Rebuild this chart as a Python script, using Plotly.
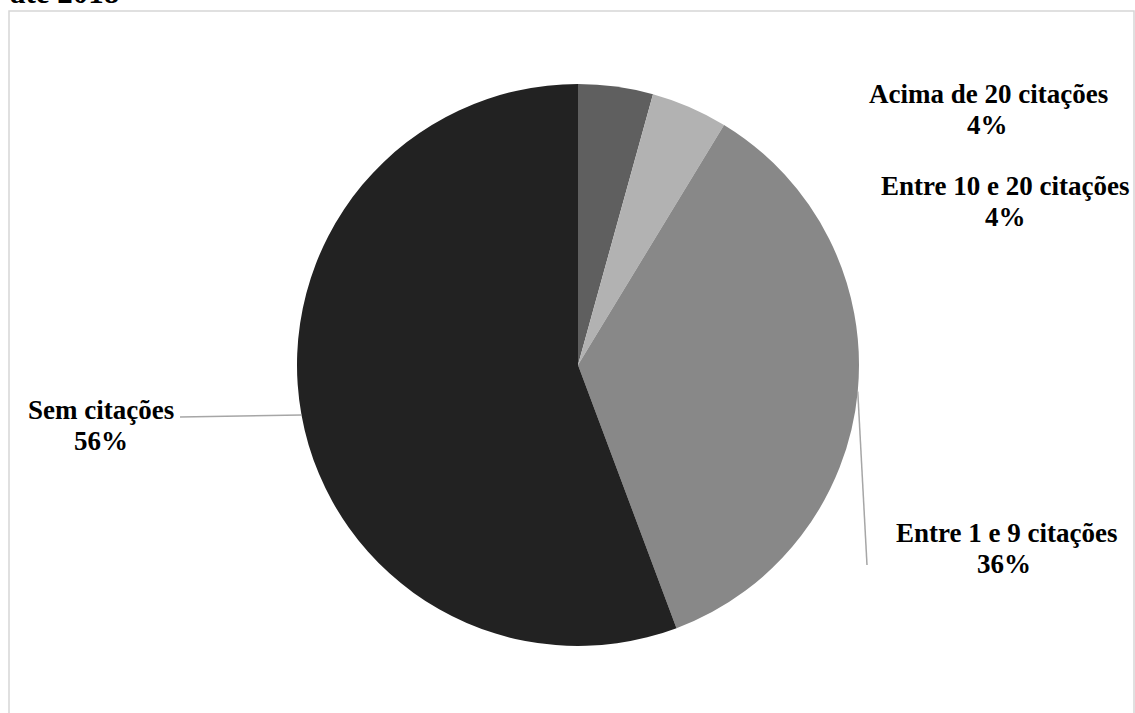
import numpy as np
import plotly.graph_objects as go

# ---- data ----
categories = ["Acima de 20 citações", "Entre 10 e 20 citações", "Entre 1 e 9 citações", "Sem citações"]
values = [4.3, 4.4, 35.6, 55.7]
pct_labels = ["4%", "4%", "36%", "56%"]
colors = ["#5f5f5f", "#b2b2b2", "#888888", "#222222"]

W, H = 1135, 713
ML, MT = 297, 84
PW = PH = 562
MR = W - ML - PW
MB = H - MT - PH
R = min(PW, PH) / 2.0
CX, CY = ML + PW / 2.0, MT + PH / 2.0


def px(x):
    """screen pixel x -> paper coordinate"""
    return (x - ML) / PW


def py(y):
    """screen pixel y -> paper coordinate"""
    return (H - MB - y) / PH


fig = go.Figure(go.Pie(
    labels=categories,
    values=values,
    sort=False,
    direction="clockwise",
    rotation=0,
    marker=dict(colors=colors, line=dict(width=0)),
    textinfo="none",
    hoverinfo="label+percent",
    showlegend=False,
))

# label positions (pixel centres of name line and percentage line)
label_pos = {
    "Acima de 20 citações": ((988, 94), (987, 125)),
    "Entre 10 e 20 citações": ((1005, 186), (1005, 217)),
    "Entre 1 e 9 citações": ((1006, 533), (1004, 564)),
    "Sem citações": ((101, 410), (101, 441)),
}
font = dict(family="Liberation Serif, Times New Roman, serif", size=27, color="#000000")
annotations = []
for cat, pct in zip(categories, pct_labels):
    (x1, y1), (x2, y2) = label_pos[cat]
    annotations.append(dict(text="<b>%s</b>" % cat, x=px(x1), y=py(y1), xref="paper", yref="paper",
                            showarrow=False, xanchor="center", yanchor="middle", font=font))
    annotations.append(dict(text="<b>%s</b>" % pct, x=px(x2), y=py(y2), xref="paper", yref="paper",
                            showarrow=False, xanchor="center", yanchor="middle", font=font))

# clipped title remnant (as in the reference: only its lower edge is visible)
annotations.append(dict(text="<b>até 2018</b>", x=px(8), y=py(12), xref="paper", yref="paper",
                        showarrow=False, xanchor="left", yanchor="bottom",
                        font=dict(family="Liberation Serif, Times New Roman, serif", size=31, color="#000000")))

# leader lines from slice mid-angles
cum = np.cumsum([0] + values) / np.sum(values)
mid = (cum[:-1] + cum[1:]) / 2 * 2 * np.pi
shapes = []
leader_ends = {"Sem citações": (180, 417), "Entre 1 e 9 citações": (867, 565)}
for i, cat in enumerate(categories):
    if cat in leader_ends:
        sx = CX + R * np.sin(mid[i])
        sy = CY - R * np.cos(mid[i])
        ex, ey = leader_ends[cat]
        shapes.append(dict(type="line", xref="paper", yref="paper",
                           x0=px(sx), y0=py(sy), x1=px(ex), y1=py(ey),
                           line=dict(color="#a6a6a6", width=1.5)))

# chart border
shapes.append(dict(type="rect", xref="paper", yref="paper",
                   x0=px(9), y0=py(730), x1=px(1134), y1=py(11),
                   line=dict(color="#d6d6d6", width=1.5), fillcolor="rgba(0,0,0,0)", layer="below"))

fig.update_layout(
    width=W, height=H,
    margin=dict(l=ML, r=MR, t=MT, b=MB, autoexpand=False),
    paper_bgcolor="#ffffff",
    plot_bgcolor="#ffffff",
    annotations=annotations,
    shapes=shapes,
)

fig.write_html("out.html",
               config={"displayModeBar": False},
               post_script="document.body.style.margin='0px';document.body.style.overflow='hidden';")
